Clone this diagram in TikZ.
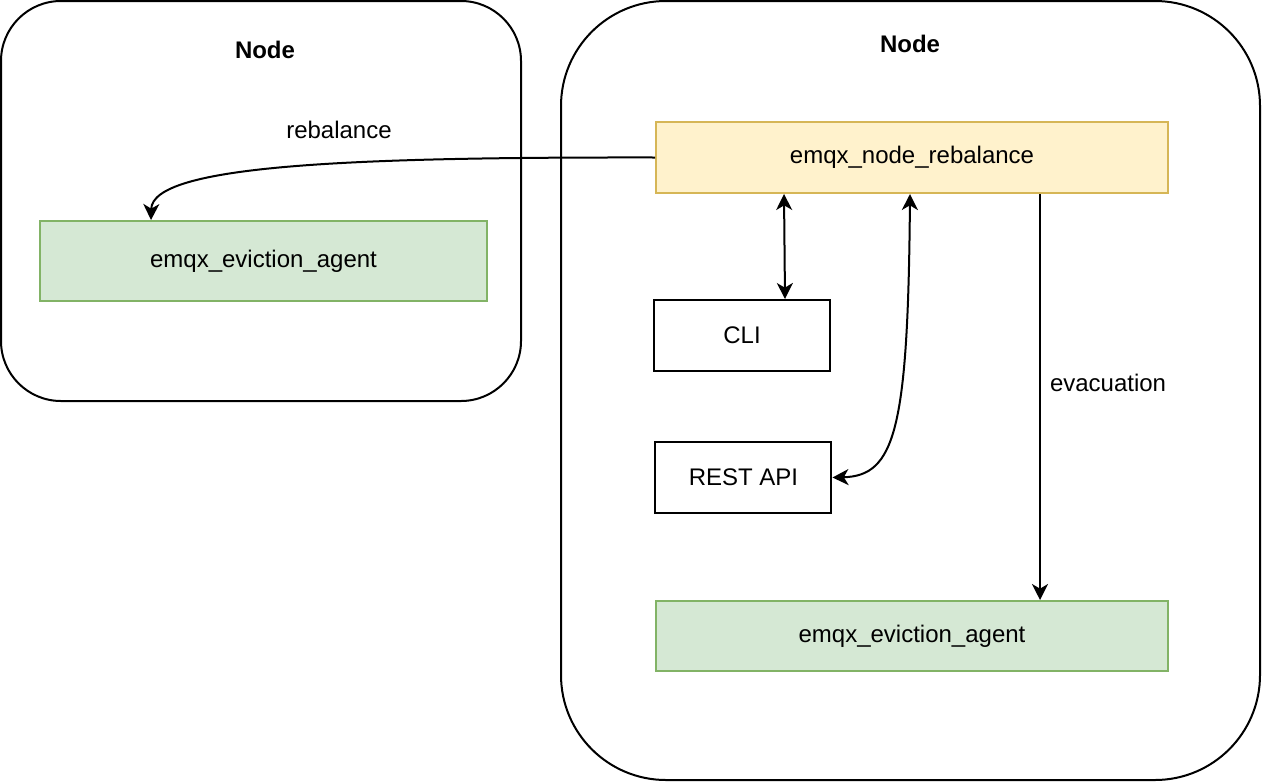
\documentclass[tikz,border=0pt]{standalone}
\usepackage{fontspec}
\setmainfont{Liberation Sans}
\usetikzlibrary{positioning, arrows.meta, calc}
\definecolor{rebalfill}{HTML}{FFF2CC}
\definecolor{rebaldraw}{HTML}{D6B656}
\definecolor{agentfill}{HTML}{D5E8D4}
\definecolor{agentdraw}{HTML}{82B366}
\tikzset{
  flow/.style={
	x=0.75pt, y=-0.75pt, % one unit is one pixel of the drawing
	>={Stealth[length=12pt,width=12pt,inset=3.5pt]}, % makes the arrow heads bold
	line width=1.5pt, % thick lines everywhere
	font=\fontsize{18}{21}\selectfont, % sets the text size
	every node/.style={inner sep=0pt},
  },
  box/.style={draw, line width=1.5pt, minimum width=132pt, minimum height=53.25pt},
  rebal/.style={box, draw=rebaldraw, fill=rebalfill, minimum width=384pt},
  agent/.style={box, draw=agentdraw, fill=agentfill},
  host/.style={draw, line width=1.5pt},
}

\begin{document}
\begin{tikzpicture}[flow]
	  \useasboundingbox (0,0) rectangle (1262,782);
	  \node[host, rounded corners=45pt, minimum width=390pt, minimum height=300pt] (hostL) at (261,201) {};
	  \node[host, rounded corners=78.75pt, minimum width=524.25pt, minimum height=584.25pt] (hostR) at (910.5,390.5) {};
	  \node[font=\fontsize{18}{21}\selectfont\bfseries] (titleL) at (265,50) {Node};
	  \node[font=\fontsize{18}{21}\selectfont\bfseries] (titleR) at (910,44) {Node};
	  \node[rebal] (rebal) at (912,157.5) {emqx\_node\_rebalance};
	  \node[agent, minimum width=335.25pt, minimum height=60pt] (agentL) at (263.5,261) {emqx\_eviction\_agent};
	  \node[agent, minimum width=384pt, minimum height=52.5pt] (agentR) at (912,636) {emqx\_eviction\_agent};
	  \node[box] (cli) at (742,335.5) {CLI};
	  \node[box, below=51.75pt of cli.south, anchor=north, xshift=1.1pt] (rest) {REST API};
	  \node (lblrebal) at (339,130) {rebalance};
	  \draw[->] (rebal.west) .. controls (350,157) and (152,165) .. ($(agentL.north west)+(112,0)$);
	  \draw[<->] ($(rebal.south west)+(129,0)$) -- ($(cli.north west)+(132,0)$);
	  \draw[<->] ($(rebal.south)+(-2,0)$) .. controls (908,430) and (895,476) .. (rest.east);
	  \draw[->] ($(rebal.south west)+(385,0)$) -- ($(agentR.north west)+(385,0)$)
		  node[pos=0.465, right=6.75pt] (lblevac) {evacuation};
	  \end{tikzpicture}
\end{document}
